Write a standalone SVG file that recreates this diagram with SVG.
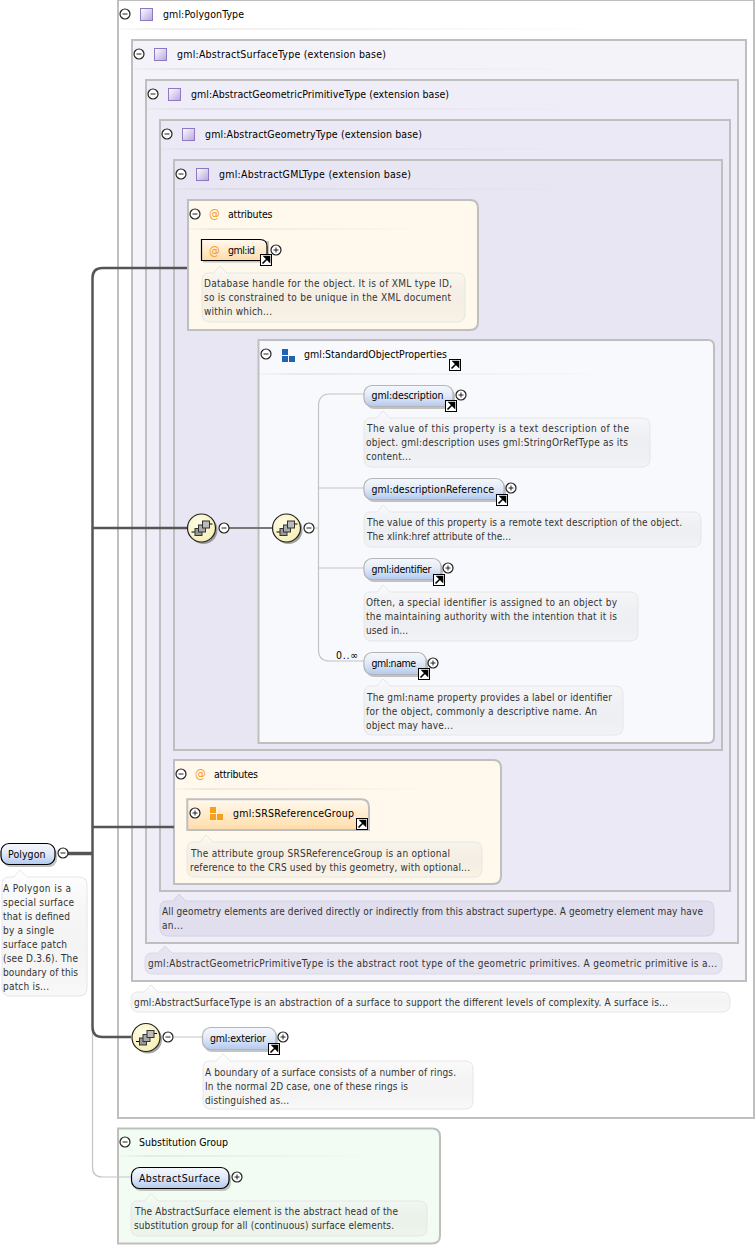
<svg xmlns="http://www.w3.org/2000/svg" width="756" height="1246" viewBox="0 0 756 1246">
<style>
text{font-family:"DejaVu Sans Condensed","DejaVu Sans","Liberation Sans",sans-serif;font-stretch:condensed;font-size:10.5px;fill:#000}
.d{font-size:10px;fill:#333}
.at{font-size:12px;fill:#f39a1c}
.box{stroke:#bfbfbf;stroke-width:2}
.desc{fill:url(#gd);stroke:#e6e6e6;stroke-width:1}
.el{fill:url(#gb);stroke:#b4b4b4;stroke-width:1.200}
.elk{fill:url(#gb);stroke:#000;stroke-width:1.200}
.sh{fill:#8a8a8a;opacity:.5}
.thick{fill:none;stroke:#555;stroke-width:2.500}
.thin{fill:none;stroke:#c4c4c4;stroke-width:1.200}
.sep{fill:url(#gs)}
</style>
<defs>
<linearGradient id="gd" x1="0" y1="0" x2="0" y2="1"><stop offset="0" stop-color="#fff" stop-opacity=".35"/><stop offset="1" stop-color="#999" stop-opacity=".06"/></linearGradient>
<linearGradient id="gb" x1="0" y1="0" x2="0" y2="1"><stop offset="0" stop-color="#f4f7fd"/><stop offset=".45" stop-color="#e4ebf8"/><stop offset="1" stop-color="#b3c9ee"/></linearGradient>
<linearGradient id="go" x1="0" y1="0" x2="0" y2="1"><stop offset="0" stop-color="#fffaf0"/><stop offset="1" stop-color="#ffdca8"/></linearGradient>
<linearGradient id="gs"><stop offset="0" stop-color="#aaa" stop-opacity=".05"/><stop offset=".1" stop-color="#aaa" stop-opacity=".2"/><stop offset="1" stop-color="#aaa" stop-opacity="0"/></linearGradient>
<linearGradient id="gt" x1="0" y1="0" x2="1" y2="1"><stop offset="0" stop-color="#fff"/><stop offset="1" stop-color="#b5a6dc"/></linearGradient>
<radialGradient id="gy" cx=".4" cy=".35" r=".7"><stop offset="0" stop-color="#fffde8"/><stop offset="1" stop-color="#f6eeb4"/></radialGradient>
<symbol id="minus" overflow="visible"><circle r="5" fill="#fff" stroke="#222" stroke-width="1.200"/><path d="M-2.500 0H2.500" stroke="#222"/></symbol>
<symbol id="plus" overflow="visible"><circle r="5" fill="#fff" stroke="#222" stroke-width="1.200"/><path d="M-2.500 0H2.500M0-2.500V2.500" stroke="#222"/></symbol>
<symbol id="ref" overflow="visible"><rect x=".5" y=".5" width="11" height="11" fill="#fff" stroke="#000"/><path d="M2.500 9.500L7 5M4.500 2.500H9.500V7.500Z" stroke="#000" stroke-width="1.600" fill="#000"/></symbol>
<symbol id="type" overflow="visible"><rect x=".5" y=".5" width="12" height="12" fill="url(#gt)" stroke="#8e78c4"/></symbol>
<symbol id="seq" overflow="visible"><circle cx="2" cy="2" r="14" fill="#666" opacity=".6"/><circle r="14" fill="url(#gy)" stroke="#222" stroke-width="1.200"/><path d="M-10 4H-5M8-4H11" stroke="#000"/><rect x="-6.500" y="0.500" width="7" height="7" fill="#999" stroke="#333"/><rect x="-3" y="-3" width="7" height="7" fill="#aaa" stroke="#333"/><rect x="1" y="-7" width="7" height="7" fill="#bbb" stroke="#333"/></symbol>
<symbol id="grp" overflow="visible"><rect x="0" y="0" width="6" height="6" fill="#1f63b5"/><rect x="0" y="7" width="6" height="6" fill="#1f63b5"/><rect x="7" y="7" width="6" height="6" fill="#1f63b5"/></symbol>
<symbol id="grpo" overflow="visible"><rect x="0" y="0" width="6" height="6" fill="#f5a01e"/><rect x="0" y="7" width="6" height="6" fill="#f5a01e"/><rect x="7" y="7" width="6" height="6" fill="#f5a01e"/></symbol>
</defs>
<rect width="756" height="1246" fill="#fff"/>

<g id="PolygonType">
<rect class="box" x="118" y="0" width="636" height="1118" fill="#fff"/>
<use href="#minus" x="125" y="14"/><use href="#type" x="140" y="8"/>
<text x="163" y="18" textLength="81">gml:PolygonType</text>
<rect class="sep" x="119" y="28" width="500" height="2"/>
</g>
<g id="AbstractSurfaceType">
<rect class="box" x="132" y="40" width="614" height="941" fill="#f5f3fa"/>
<use href="#minus" x="139" y="54"/><use href="#type" x="154" y="48"/>
<text x="177" y="58" textLength="209">gml:AbstractSurfaceType (extension base)</text>
<rect class="sep" x="133" y="68" width="462" height="2"/>
</g>
<g id="AbstractGeometricPrimitiveType">
<rect class="box" x="146" y="80" width="592" height="863" fill="#efedf7"/>
<use href="#minus" x="153" y="94"/><use href="#type" x="168" y="88"/>
<text x="191" y="98" textLength="258">gml:AbstractGeometricPrimitiveType (extension base)</text>
<rect class="sep" x="147" y="108" width="445" height="2"/>
</g>
<g id="AbstractGeometryType">
<rect class="box" x="160" y="120" width="570" height="771" fill="#ebe9f5"/>
<use href="#minus" x="167" y="134"/><use href="#type" x="182" y="128"/>
<text x="205" y="138" textLength="217">gml:AbstractGeometryType (extension base)</text>
<rect class="sep" x="161" y="148" width="430" height="2"/>
</g>
<g id="AbstractGMLType">
<rect class="box" x="174" y="160" width="548" height="590" fill="#e9e6f3"/>
<use href="#minus" x="181" y="174"/><use href="#type" x="196" y="168"/>
<text x="219" y="178" textLength="192">gml:AbstractGMLType (extension base)</text>
<rect class="sep" x="175" y="188" width="412" height="2"/>
</g>
<g id="attributes1">
<path class="box" d="M188 200H470Q478 200 478 208V322Q478 330 470 330H188Z" fill="#fff8ec"/>
<use href="#minus" x="195" y="214"/>
<text class="at" x="209" y="218">@</text>
<text x="228" y="218" textLength="44.500">attributes</text>
<rect class="sep" x="189" y="228" width="240" height="2"/>
</g>
<g id="StandardObjectProperties">
<path class="box" d="M258.500 340H708Q714 340 714 346V737Q714 743 708 743H258.500Z" fill="#f8f9fd"/>
<use href="#minus" x="266" y="354"/><use href="#grp" x="282" y="349"/>
<text x="304" y="358" textLength="143">gml:StandardObjectProperties</text>
<rect class="sep" x="260" y="373" width="360" height="2"/>
<use href="#ref" x="449" y="359"/>
</g>
<g id="attributes2">
<path class="box" d="M174 760H493Q501 760 501 768V876Q501 884 493 884H174Z" fill="#fff8ec"/>
<use href="#minus" x="181" y="774"/>
<text class="at" x="195" y="778">@</text>
<text x="214" y="778" textLength="44">attributes</text>
<rect class="sep" x="176" y="788" width="260" height="2"/>
</g>
<g id="SubstitutionGroup">
<path class="box" d="M118 1128.500H432Q440 1128.500 440 1136.500V1235.500Q440 1243.500 432 1243.500H118Z" fill="#f3fcf3"/>
<use href="#minus" x="125" y="1142"/>
<text x="139" y="1146" textLength="89">Substitution Group</text>
<rect class="sep" x="120" y="1155" width="260" height="2"/>
</g>

<g id="connectors">
<path class="thin" d="M92.500 853V1167Q92.500 1177 102.500 1177H131"/>
<path class="thick" d="M187 268H102.500Q92.500 268 92.500 278V1027Q92.500 1037 102.500 1037H131"/>
<path class="thick" d="M92.500 528H188M92.500 827H174"/>
<path class="thick" d="M68 853.500H92.500" style="stroke-width:3.500"/>
<path class="thick" d="M229 528H273" style="stroke:#777;stroke-width:2"/>
<path class="thin" d="M315 528H318.500M364 394H330Q318.500 394 318.500 406V650Q318.500 661 330 661H364M318.500 488H364M318.500 568H364M174 1037H202"/>
</g>

<g id="gml-id">
<path class="sh" d="M203 241H269V262.500H203Z"/>
<path d="M201.500 239.500H260Q267 239.500 267 246.500V260.500H201.500Z" fill="url(#go)" stroke="#000" stroke-width="1.200"/>
<text class="at" x="209" y="255">@</text>
<text x="228" y="254" textLength="27">gml:id</text>
<use href="#plus" x="276" y="250"/><use href="#ref" x="260" y="254"/>
<path class="desc" d="M208 273H214L220 266L227 273H457Q465 273 465 281V314Q465 322 457 322H210Q202 322 202 314V281Q202 273 208 273Z"/>
<text class="d" x="204" y="287" textLength="248">Database handle for the object. It is of XML type ID,</text>
<text class="d" x="204" y="301" textLength="247">so is constrained to be unique in the XML document</text>
<text class="d" x="204" y="315" textLength="68">within which...</text>
</g>
<g id="seq1"><use href="#seq" x="201.500" y="528"/><use href="#minus" x="224" y="528"/></g>
<g id="seq2"><use href="#seq" x="286.500" y="528"/><use href="#minus" x="309" y="528"/></g>
<g id="gml-description">
<rect class="sh" x="366" y="388" width="89" height="21" rx="8"/>
<rect class="el" x="364" y="385.500" width="89" height="21" rx="8"/>
<text x="371.500" y="399" textLength="72">gml:description</text>
<use href="#plus" x="461" y="395"/><use href="#ref" x="445" y="400"/>
<path class="desc" d="M370 418H377L383 411L390 418H642Q650 418 650 426V459Q650 467 642 467H372Q364 467 364 459V426Q364 418 370 418Z"/>
<text class="d" x="367" y="432" textLength="262">The value of this property is a text description of the</text>
<text class="d" x="366" y="446" textLength="262">object. gml:description uses gml:StringOrRefType as its</text>
<text class="d" x="366" y="460" textLength="45">content...</text>
</g>
<g id="gml-descriptionReference">
<rect class="sh" x="366" y="481" width="140" height="21" rx="8"/>
<rect class="el" x="364" y="478.500" width="140" height="21" rx="8"/>
<text x="371.500" y="493" textLength="122.500">gml:descriptionReference</text>
<use href="#plus" x="511" y="488"/><use href="#ref" x="496" y="494"/>
<path class="desc" d="M370 512H377L383 505L390 512H693Q701 512 701 520V539Q701 547 693 547H372Q364 547 364 539V520Q364 512 370 512Z"/>
<text class="d" x="367" y="526" textLength="315">The value of this property is a remote text description of the object.</text>
<text class="d" x="367" y="540" textLength="144">The xlink:href attribute of the...</text>
</g>
<g id="gml-identifier">
<rect class="sh" x="366" y="561" width="77" height="21" rx="8"/>
<rect class="el" x="364" y="558.500" width="77" height="21" rx="8"/>
<text x="371.500" y="573" textLength="60">gml:identifier</text>
<use href="#plus" x="448" y="568"/><use href="#ref" x="433" y="574"/>
<path class="desc" d="M370 592H377L383 585L390 592H630Q638 592 638 600V633Q638 641 630 641H372Q364 641 364 633V600Q364 592 370 592Z"/>
<text class="d" x="366" y="606" textLength="251">Often, a special identifier is assigned to an object by</text>
<text class="d" x="366" y="620" textLength="251">the maintaining authority with the intention that it is</text>
<text class="d" x="366" y="634" textLength="42">used in...</text>
</g>
<g id="gml-name">
<rect class="sh" x="366" y="655" width="62" height="22" rx="8"/>
<rect class="el" x="364" y="652.500" width="62" height="22" rx="8"/>
<text x="336" y="659" textLength="22">0..∞</text>
<text x="371.500" y="667" textLength="44.500">gml:name</text>
<use href="#plus" x="433" y="663"/><use href="#ref" x="418" y="668"/>
<path class="desc" d="M370 686H377L383 679L390 686H615Q623 686 623 694V727Q623 735 615 735H372Q364 735 364 727V694Q364 686 370 686Z"/>
<text class="d" x="367" y="701" textLength="245">The gml:name property provides a label or identifier</text>
<text class="d" x="366" y="715" textLength="231">for the object, commonly a descriptive name. An</text>
<text class="d" x="366" y="729" textLength="87">object may have...</text>
</g>
<g id="SRSReferenceGroup">
<path d="M187.300 799.300H361Q369 799.300 369 807.300V830H187.300Z" fill="url(#go)" stroke="#bfbfbf" stroke-width="2"/>
<use href="#plus" x="195" y="813"/><use href="#grpo" x="210" y="807"/>
<text x="233" y="817" textLength="121">gml:SRSReferenceGroup</text>
<use href="#ref" x="356" y="818"/>
<path class="desc" d="M193 842H200L206 835L213 842H474Q482 842 482 850V869Q482 877 474 877H195Q187 877 187 869V850Q187 842 193 842Z"/>
<text class="d" x="191" y="857" textLength="259">The attribute group SRSReferenceGroup is an optional</text>
<text class="d" x="190" y="871" textLength="280">reference to the CRS used by this geometry, with optional...</text>
</g>
<g id="note-geometry">
<path class="desc" style="fill:#e1deed;stroke:#d4d2e0" d="M166 901H173L179 894L186 901H706Q714 901 714 909V928Q714 936 706 936H168Q160 936 160 928V909Q160 901 166 901Z"/>
<text class="d" x="162" y="915" textLength="541">All geometry elements are derived directly or indirectly from this abstract supertype. A geometry element may have</text>
<text class="d" x="162" y="929" textLength="21">an...</text>
</g>
<g id="note-primitive">
<path class="desc" style="fill:#e6e4f0;stroke:#dad8e6" d="M151 953H158L165 946L172 953H714Q722 953 722 961V966Q722 974 714 974H153Q145 974 145 966V961Q145 953 151 953Z"/>
<text class="d" x="148" y="967" textLength="569">gml:AbstractGeometricPrimitiveType is the abstract root type of the geometric primitives. A geometric primitive is a...</text>
</g>
<g id="note-surface">
<path class="desc" d="M137 992H144L151 985L158 992H722Q730 992 730 1000V1004Q730 1012 722 1012H139Q131 1012 131 1004V1000Q131 992 137 992Z"/>
<text class="d" x="134" y="1006" textLength="534">gml:AbstractSurfaceType is an abstraction of a surface to support the different levels of complexity. A surface is...</text>
</g>
<g id="Polygon">
<rect class="sh" x="3" y="846" width="54" height="21" rx="8"/>
<rect class="elk" x="1" y="843.500" width="54" height="21" rx="8"/>
<text x="8" y="858" textLength="37.500">Polygon</text>
<use href="#minus" x="63" y="853"/>
<path class="desc" d="M8 877H14L20 870L27 877H79Q87 877 87 885V988Q87 996 79 996H10Q2 996 2 988V885Q2 877 8 877Z"/>
<text class="d" x="3" y="892" textLength="68">A Polygon is a</text>
<text class="d" x="3" y="906" textLength="71">special surface</text>
<text class="d" x="3" y="920" textLength="67">that is defined</text>
<text class="d" x="3" y="934" textLength="51">by a single</text>
<text class="d" x="3" y="948" textLength="64">surface patch</text>
<text class="d" x="3" y="962" textLength="75">(see D.3.6). The</text>
<text class="d" x="3" y="976" textLength="75">boundary of this</text>
<text class="d" x="3" y="990" textLength="46">patch is...</text>
</g>
<g id="seq3"><use href="#seq" x="146" y="1037.500"/><use href="#minus" x="168" y="1037"/></g>
<g id="gml-exterior">
<rect class="sh" x="204" y="1030" width="74" height="22" rx="8"/>
<rect class="el" x="202.500" y="1027.500" width="73.500" height="22" rx="8"/>
<text x="210" y="1042" textLength="56">gml:exterior</text>
<use href="#plus" x="283" y="1037"/><use href="#ref" x="268" y="1043"/>
<path class="desc" d="M209 1061H216L223 1054L230 1061H465Q473 1061 473 1069V1101Q473 1109 465 1109H211Q203 1109 203 1101V1069Q203 1061 209 1061Z"/>
<text class="d" x="205" y="1076" textLength="251">A boundary of a surface consists of a number of rings.</text>
<text class="d" x="205" y="1090" textLength="203">In the normal 2D case, one of these rings is</text>
<text class="d" x="205" y="1104" textLength="84">distinguished as...</text>
</g>
<g id="AbstractSurface">
<rect class="sh" x="133" y="1170" width="98" height="21" rx="8"/>
<rect class="elk" x="131.500" y="1167.500" width="97.500" height="21" rx="8"/>
<text x="139" y="1182" textLength="81">AbstractSurface</text>
<use href="#plus" x="237" y="1177"/>
<path class="desc" d="M137 1201H144L151 1194L158 1201H419Q427 1201 427 1209V1228Q427 1236 419 1236H139Q131 1236 131 1228V1209Q131 1201 137 1201Z"/>
<text class="d" x="135" y="1215" textLength="263">The AbstractSurface element is the abstract head of the</text>
<text class="d" x="134" y="1229" textLength="260">substitution group for all (continuous) surface elements.</text>
</g>
</svg>
